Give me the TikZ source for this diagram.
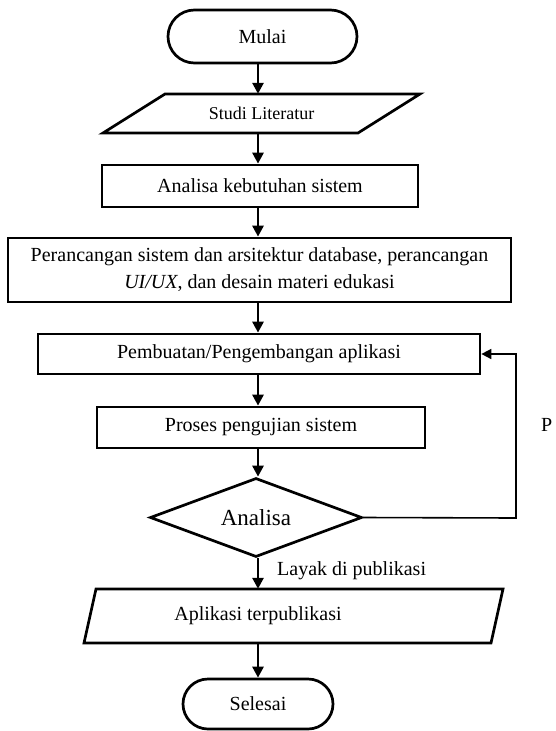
\documentclass[tikz,border=0pt]{standalone}
\usepackage{fontspec}
\setmainfont{Liberation Serif}
\usetikzlibrary{shapes.misc,shapes.geometric,arrows.meta}
\begin{document}
\begin{tikzpicture}[x=1pt,y=-1pt,
  every node/.style={inner sep=0pt,font=\fontsize{20}{27}\selectfont},
  boxline/.style={draw=black,line width=2.7pt},
  procbox/.style={boxline,rectangle},
  termbox/.style={boxline,rounded rectangle},
  decbox/.style={boxline,diamond,aspect=2.7},
  arr/.style={line width=2.7pt,-{Triangle[width=11pt,length=11pt]}},
  fbarr/.style={line width=1.6pt,-{Triangle[width=10pt,length=10pt]}}]
\useasboundingbox (0,0) rectangle (555,731);
\coordinate (col) at (258,0);
% nodes
\node[termbox,minimum width=189pt,minimum height=53pt] (mulai) at (262.5,36.5) {Mulai};
\draw[boxline,line join=miter] (165,94) -- (420,94) -- (358,133) -- (103,133) -- cycle;
\node[minimum width=200pt,minimum height=39pt,font=\fontsize{18}{22}\selectfont] (studi) at (261.5,113.5) {Studi Literatur};
\node[procbox,minimum width=316pt,minimum height=42pt] (kebutuhan) at (260,186) {Analisa kebutuhan sistem};
\node[procbox,minimum width=503pt,minimum height=64pt,align=center] (perancangan) at (259.5,270)
  {Perancangan sistem dan arsitektur database, perancangan\\ \textit{UI/UX}, dan desain materi edukasi};
\node[procbox,minimum width=442pt,minimum height=40pt] (pembuatan) at (259,354) {Pembuatan/Pengembangan aplikasi};
\node[procbox,minimum width=328pt,minimum height=41pt] (proses) at (261,427.5) {Proses pengujian sistem};
\node[decbox,minimum width=212pt,minimum height=79pt,font=\fontsize{23}{27}\selectfont] (analisa) at (256,517.5) {Analisa};
\draw[boxline,line join=miter] (96,589) -- (503,589) -- (491,643) -- (84,643) -- cycle;
\node[minimum width=300pt,minimum height=54pt] (aplikasi) at (258,616) {Aplikasi terpublikasi};
\node[termbox,minimum width=150pt,minimum height=50pt] (selesai) at (258,704) {Selesai};
\node[anchor=base west] (layak) at (277,575) {Layak di publikasi};
\node[anchor=west] (plabel) at (541,425) {P};
% connectors
\draw[arr] (mulai.south -| col) -- (studi.north -| col);
\draw[arr] (studi.south -| col) -- (kebutuhan.north -| col);
\draw[arr] (kebutuhan.south -| col) -- (perancangan.north -| col);
\draw[arr] (perancangan.south -| col) -- (pembuatan.north -| col);
\draw[arr] (pembuatan.south -| col) -- (proses.north -| col);
\draw[arr] (proses.south -| col) -- (analisa.north -| col);
\draw[arr] (analisa.south -| col) -- (aplikasi.north -| col);
\draw[arr] (aplikasi.south -| col) -- (selesai.north -| col);
\coordinate (fb) at (516,518);
\draw[fbarr] (analisa.east) -- (fb) |- (pembuatan.east);
\end{tikzpicture}
\end{document}
